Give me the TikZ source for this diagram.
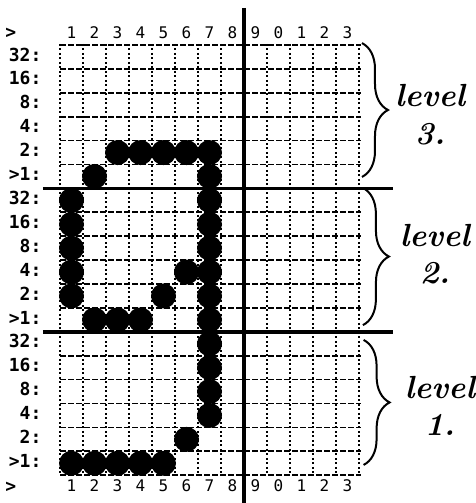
\documentclass[tikz,border=0pt]{standalone}
\usepackage{fontspec}
\usepackage{tikz}
\usetikzlibrary{positioning,decorations.pathreplacing}
\newfontfamily\dotfont{DejaVu Sans Mono}
\definecolor{printInk}{RGB}{0,0,0}
\tikzset{
  gridrow/.style={line width=1.7pt, dash pattern=on 6pt off 2pt},
  gridcol/.style={line width=1.5pt, dash pattern=on 2pt off 2.5pt},
  heavyline/.style={line width=3.4pt},
  rowlabel/.style={anchor=east, inner sep=0pt, font=\dotfont\bfseries\fontsize{18}{18}\selectfont},
  collabel/.style={inner sep=0pt, font=\dotfont\fontsize{16}{16}\selectfont},
  bitdot/.style={fill=printInk},
  levelbrace/.style={decorate, decoration={brace, amplitude=26pt}, line width=2pt},
  leveltext/.style={inner sep=0pt, font=\bfseries\itshape\fontsize{32}{32}\selectfont},
}

\begin{document}
\begin{tikzpicture}[x=23pt, y=-23.9pt, color=printInk]
\useasboundingbox (-2.6087,-1.8828) rectangle (18.087,19.163);

\foreach \g in {0,...,18} \draw[gridrow] (0,\g) -- (13.1,\g);
\foreach \c in {0,...,13} \draw[gridcol] (\c,-0.05) -- (\c,18);
\draw[heavyline] (-0.74,6) -- (14.48,6);
\draw[heavyline] (-0.74,12) -- (14.48,12);
\draw[heavyline] (8,-1.55) -- (8,19.163);

\foreach \c in {1,...,13} {
  \pgfmathtruncatemacro{\d}{mod(\c,10)}
  \node[collabel] (top-\c) at (\c-0.5,-0.5) {\d};
  \node[collabel] (bot-\c) at (\c-0.5,18.45) {\d};
}
\node[rowlabel] (top-mark) at (-1.9,-0.5) {>};
\node[rowlabel] (bot-mark) at (-1.9,18.5) {>};

\foreach \lev/\o in {3/0,2/6,1/12} {
  \foreach \v/\r in {32:/1,16:/2,8:/3,4:/4,2:/5,>1:/6}
    \node[rowlabel] (row-\lev-\r) at (-0.8,\o+\r-0.6) {\v};
}

\foreach \c/\g in {3/5,4/5,5/5,6/5,7/5,2/6,7/6,
                   1/7,1/8,1/9,1/10,1/11,7/7,7/8,7/9,7/10,7/11,7/12,6/10,5/11,2/12,3/12,4/12,
                   7/13,7/14,7/15,7/16,6/17,1/18,2/18,3/18,4/18,5/18}
  \fill[bitdot] (\c-0.5,\g-0.5) circle (12.5pt);

\draw[levelbrace] (13.13,-0.08) -- (13.13,5.52);
\draw[levelbrace] (13.17,5.98) -- (13.17,11.72);
\draw[levelbrace] (13.2,12.34) -- (13.2,17.57);

\node[leveltext] (word-3) at (16.09,2.13) {level};
\node[leveltext, below=16pt of word-3] (num-3) {3.};
\node[leveltext] (word-2) at (16.3,7.95) {level};
\node[leveltext, below=16pt of word-2] (num-2) {2.};
\node[leveltext] (word-1) at (16.52,14.31) {level};
\node[leveltext, below=16pt of word-1] (num-1) {1.};
\end{tikzpicture}
\end{document}
